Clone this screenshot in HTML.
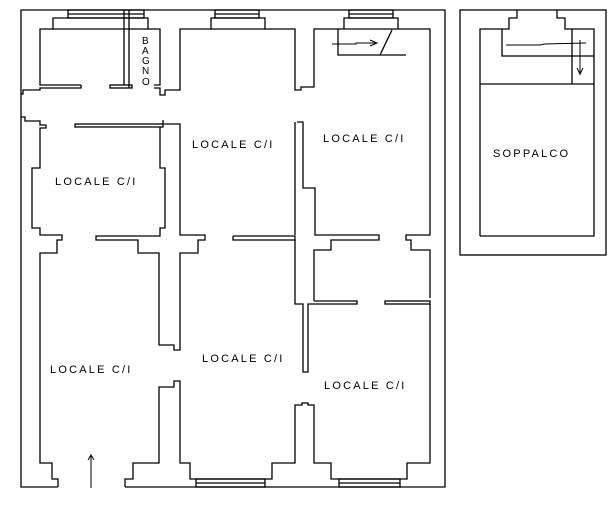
<!DOCTYPE html>
<html><head><meta charset="utf-8"><style>
html,body{margin:0;padding:0;background:#fff;width:615px;height:512px;overflow:hidden}
svg{display:block}
text{font-family:"Liberation Sans",sans-serif;font-size:11px;letter-spacing:2.2px;fill:#000}
</style></head><body>
<svg width="615" height="512" viewBox="0 0 615 512" fill="none" stroke="#000" stroke-width="1.3">
<polyline points="58,487 21,487 21,10 445,10 445,487 125,487"/>
<rect x="68" y="10" width="76" height="8"/><line x1="68" y1="14" x2="144" y2="14"/>
<polyline points="53,29 53,18 148,18 148,29"/>
<rect x="215" y="10" width="44" height="8"/><line x1="215" y1="14" x2="259" y2="14"/>
<polyline points="211,29 211,18 265,18 265,29"/>
<rect x="349" y="10" width="44" height="8"/><line x1="349" y1="14" x2="393" y2="14"/>
<polyline points="344,29 344,18 398,18 398,29"/>
<polyline points="81,85 40,85 40,29 160,29 160,85 154,85"/>
<polyline points="81,85 81,88 40,88 40,90 23,90 23,94 21,94"/>
<rect x="110" y="85" width="22" height="3"/>
<line x1="124" y1="10" x2="124" y2="85"/><line x1="129" y1="10" x2="129" y2="88"/>
<polyline points="154,88 160,88 160,95 165,95 165,90 180,90 180,29 295,29 295,90 301,90 301,87 314,87 314,29 430,29 430,235 406,235 406,240 411,240 411,250 430,250 430,298"/>
<polyline points="21,117 25,117 25,121 40,121 40,125 46,125 46,128 40,128 40,168 32,168 32,228 40,228 40,235 62,235 62,240 57,240 57,253 40,253 40,463 52,463 52,479 58,479 58,487"/>
<rect x="75" y="124" width="88" height="3"/>
<polyline points="163,120 163,124 165,124 180,124 180,235 205,235 205,240 198,240 198,253 180,253 180,350 174,350 174,345 159,345 159,253 138,253 138,240 96,240 96,236 160,236 160,228 165,228 165,168 160,168 160,127"/>
<polyline points="233,236 295,236 295,240 233,240 233,236"/>
<polyline points="295,122 295,235"/>
<polyline points="297,122 303,122 303,188 315,188 315,235 379,235 379,240 331,240 331,250 314,250 314,301"/>
<polyline points="295,240 295,253 295,304 303,304 303,372 308,372 308,304 357,304 357,301 314,301"/>
<rect x="385" y="301" width="45" height="3"/>
<polyline points="430,304 430,463 407,463 407,479 331,479 331,463 314,463 314,405 308,405 308,403 302,403 302,405 295,405 295,463 272,463 272,479 190,479 190,463 180,463 180,381 174,381 174,387 159,387 159,463 133,463 133,479 125,479 125,487"/>
<rect x="196" y="479" width="69" height="8"/><line x1="196" y1="483" x2="265" y2="483"/>
<rect x="339" y="479" width="61" height="8"/><line x1="339" y1="483" x2="400" y2="483"/>
<polyline points="338,29 338,55 406,55"/>
<line x1="380" y1="55" x2="392" y2="30"/>
<polyline points="332,44 356,44 356,43 376,43" stroke-width="1"/>
<polyline points="370,40 377,43 370,46" stroke-width="1"/>
<line x1="91" y1="488" x2="91" y2="455" stroke-width="1"/>
<polyline points="88,460 91,455 94,460" stroke-width="1"/>
<rect x="460" y="10" width="146" height="245"/>
<polyline points="480,236 480,29 509,29 509,18 517,18 517,10"/>
<polyline points="557,10 557,18 565,18 565,29 594,29 594,236 480,236"/>
<line x1="480" y1="84" x2="594" y2="84"/>
<polyline points="502,29 502,56 594,56"/>
<line x1="572" y1="29" x2="572" y2="84"/>
<polyline points="506,45 540,45 545,44 586,43" stroke-width="1"/>
<line x1="580" y1="40" x2="580" y2="75" stroke-width="1"/>
<polyline points="577,68 580,74 583,68" stroke-width="1"/>
</svg>
<svg width="615" height="512" style="position:absolute;left:0;top:0">
<text x="55" y="185">LOCALE C/I</text>
<text x="192" y="148">LOCALE C/I</text>
<text x="323" y="142">LOCALE C/I</text>
<text x="50" y="373">LOCALE C/I</text>
<text x="202" y="362">LOCALE C/I</text>
<text x="324" y="389">LOCALE C/I</text>
<text x="493" y="157">SOPPALCO</text>
<text x="142" y="44" style="letter-spacing:0;font-size:10px">B</text>
<text x="142" y="54" style="letter-spacing:0;font-size:10px">A</text>
<text x="142" y="64" style="letter-spacing:0;font-size:10px">G</text>
<text x="142" y="74" style="letter-spacing:0;font-size:10px">N</text>
<text x="142" y="85" style="letter-spacing:0;font-size:10px">O</text>
</svg>
</body></html>
